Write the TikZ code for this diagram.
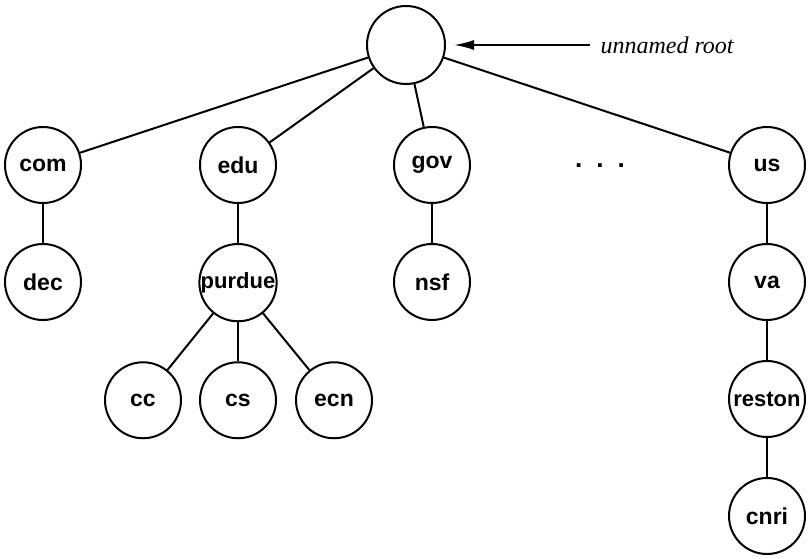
\documentclass[tikz,border=0pt]{standalone}
\usepackage{fontspec}
\setmainfont{Liberation Sans}
\newfontfamily\labelfont{Liberation Serif}
\usetikzlibrary{arrows.meta,positioning}

\begin{document}
\begin{tikzpicture}[
    x=1pt, y=-1pt,
    node distance=39pt,
    dom/.style={draw, circle, line width=2pt, minimum size=76pt, inner sep=0pt, font=\fontsize{23}{26}\selectfont\bfseries},
    edge/.style={line width=2pt},
    arr/.style={{Latex[length=20pt,width=10pt]}-, line width=2pt}
]
\useasboundingbox (0,0) rectangle (808,559);
% top levels
\node[dom, minimum size=78pt] (root) at (406,45) {};
\node[dom] (com) at (43,165) {com};
\node[dom] (edu) at (238,165) {edu};
\node[dom] (gov) at (432,165) {gov};
\node[dom] (us) at (767,165) {us};
\node[font=\fontsize{26}{28}\selectfont\bfseries] (dots) at (600,166) {.\hspace{14pt}.\hspace{14pt}.};
% lower levels
\node[dom, below=of com] (dec) {dec};
\node[dom, below=of edu, font=\fontsize{22}{24}\selectfont\bfseries] (purdue) {purdue};
\node[dom, below=of gov] (nsf) {nsf};
\node[dom, below=of us] (va) {va};
\node[dom, below=of va, font=\fontsize{22}{24}\selectfont\bfseries] (reston) {reston};
\node[dom, below=of reston] (cnri) {cnri};
\node[dom, below=of purdue] (cs) {cs};
\node[dom, left=17pt of cs] (cc) {cc};
\node[dom, right=18pt of cs] (ecn) {ecn};
% root label
\node[anchor=west, font=\fontsize{24}{26}\selectfont\labelfont\itshape] (rootlbl) at (597,45) {unnamed root};
\coordinate (lblstart) at (590,45);
\draw[arr] (root.east) ++(8,0) coordinate (tip) -- (lblstart);
% edges
\foreach \a/\b in {root/com, root/edu, root/gov, root/us, com/dec, edu/purdue, gov/nsf,
    us/va, va/reston, reston/cnri, purdue/cc, purdue/cs, purdue/ecn}
  \draw[edge] (\a) -- (\b);
\end{tikzpicture}
\end{document}
